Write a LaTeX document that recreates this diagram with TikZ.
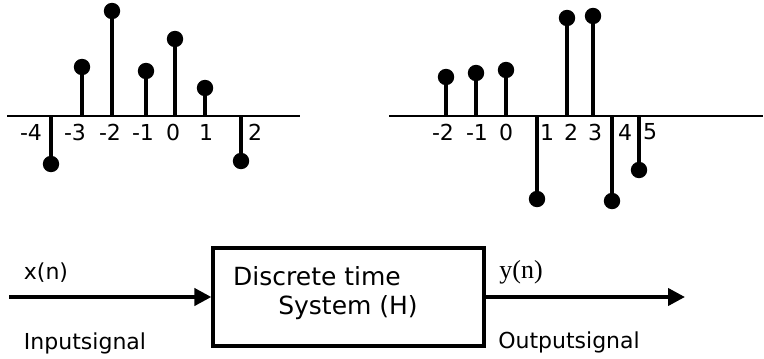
\documentclass[tikz,border=0pt]{standalone}
\usepackage{fontspec}
\setmainfont{DejaVu Sans}
\newfontfamily\ynfont{Liberation Serif}
\usetikzlibrary{arrows.meta,shapes}
\tikzstyle{dot}=[circle,fill=black,inner sep=0pt,minimum size=8.2pt]
\tikzstyle{stem}=[line width=1.8pt]
\tikzstyle{axis}=[line width=1pt]
\tikzstyle{tick}=[inner sep=0pt,font=\fontsize{11}{13}\selectfont]
\tikzstyle{sig}=[inner sep=0pt,font=\fontsize{11}{13}\selectfont]
\tikzstyle{sysbox}=[draw,line width=1.6pt,minimum width=135.5pt,minimum height=49pt]
\tikzstyle{flow}=[line width=2pt,-{Triangle[length=8.5pt,width=8.5pt]}]

\begin{document}
\begin{tikzpicture}[x=0.5pt,y=-0.5pt]
\useasboundingbox (0,0) rectangle (764,358);
% input sequence x(n)
\coordinate (xl) at (7,116);
\coordinate (xr) at (300,116);
\draw[axis](xl)--(xr);
\node[dot] (xm4) at (51,164) {};
\node[dot] (xm3) at (82,67) {};
\node[dot] (xm2) at (112,11) {};
\node[dot] (xm1) at (146,71) {};
\node[dot] (x0) at (175,39) {};
\node[dot] (x1) at (205,88) {};
\node[dot] (x2) at (241,161) {};
\draw[stem](xm4.center)--(xm4.center|-xl);
\draw[stem](xm3.center)--(xm3.center|-xl);
\draw[stem](xm2.center)--(xm2.center|-xl);
\draw[stem](xm1.center)--(xm1.center|-xl);
\draw[stem](x0.center)--(x0.center|-xl);
\draw[stem](x1.center)--(x1.center|-xl);
\draw[stem](x2.center)--(x2.center|-xl);
\node[tick] (tm4) at (31,132) {-4};
\node[tick] (tm3) at (75,132) {-3};
\node[tick] (tm2) at (110,132) {-2};
\node[tick] (tm1) at (143,132) {-1};
\node[tick] (t0) at (173,132) {0};
\node[tick] (t1) at (206,132) {1};
\node[tick] (t2) at (255,132) {2};
% output sequence y(n)
\coordinate (yl) at (389,116);
\coordinate (yr) at (763,116);
\draw[axis](yl)--(yr);
\node[dot] (ym2) at (446,77) {};
\node[dot] (ym1) at (476,73) {};
\node[dot] (y0) at (506,70) {};
\node[dot] (y1) at (537,199) {};
\node[dot] (y2) at (567,18) {};
\node[dot] (y3) at (593,16) {};
\node[dot] (y4) at (612,201) {};
\node[dot] (y5) at (639,170) {};
\draw[stem](ym2.center)--(ym2.center|-yl);
\draw[stem](ym1.center)--(ym1.center|-yl);
\draw[stem](y0.center)--(y0.center|-yl);
\draw[stem](y1.center)--(y1.center|-yl);
\draw[stem](y2.center)--(y2.center|-yl);
\draw[stem](y3.center)--(y3.center|-yl);
\draw[stem](y4.center)--(y4.center|-yl);
\draw[stem](y5.center)--(y5.center|-yl);
\node[tick] (um2) at (443,132) {-2};
\node[tick] (um1) at (477,132) {-1};
\node[tick] (u0) at (506,132) {0};
\node[tick] (u1) at (547,132) {1};
\node[tick] (u2) at (571,132) {2};
\node[tick] (u3) at (595,132) {3};
\node[tick] (u4) at (625,132) {4};
\node[tick] (u5) at (650,132) {5};
% system block
\node[sysbox] (H) at (348.5,297) {};
\node[inner sep=0pt,font=\fontsize{12.5}{15}\selectfont] (Hl1) at (317,276) {Discrete time};
\node[inner sep=0pt,font=\fontsize{12.5}{15}\selectfont] (Hl2) at (348,308) {System (H)};
\coordinate (in) at (9,297);
\coordinate (out) at (685,297);
\draw[flow](in)--(H.west);
\draw[flow](H.east)--(out);
\node[sig] (xn) at (46,273) {x(n)};
\node[sig] (ins) at (85,343) {Inputsignal};
\node[inner sep=0pt,font=\fontsize{13}{15}\ynfont] (yn) at (521,272) {y(n)};
\node[sig] (outs) at (569,342) {Outputsignal};
\end{tikzpicture}
\end{document}
